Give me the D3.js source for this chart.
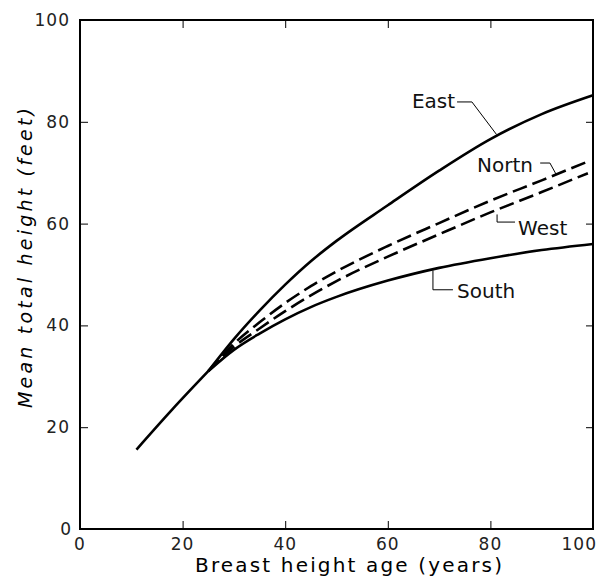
<!DOCTYPE html>
<html>
<head>
<meta charset="utf-8">
<script src="https://cdn.jsdelivr.net/npm/d3@7"></script>
<style>
	body { margin: 0; background: #fff; }
	svg { display: block; font-family: "DejaVu Sans", "Liberation Sans", sans-serif; }
</style>
</head>
<body>
<svg id="chart" width="600" height="579"></svg>
<script>
// values (age in years, height in feet)
const commonAges = [11, 18, 25];
const commonHeights = [15.6, 23.5, 31];

const ages = [25, 30, 35, 40, 45, 50, 60, 70, 80, 90, 100];
const east = [31, 37.3, 42.9, 48, 52.6, 56.6, 63.6, 70.4, 76.6, 81.5, 85.2];
const south = [31, 35.2, 38.4, 41.2, 43.6, 45.6, 48.8, 51.3, 53.2, 54.8, 56];

const dashedAges = [25, 30, 35, 40, 45, 50, 60, 70, 80, 90, 99];
const north = [31, 36.4, 40.6, 44.4, 47.7, 50.6, 55.6, 60.1, 64.5, 68.5, 72.2];
const west = [31, 35.8, 39.4, 42.8, 45.9, 48.7, 53.5, 57.9, 62.2, 66.2, 69.9];

const xTicks = [0, 20, 40, 60, 80, 100];
const yTicks = [0, 20, 40, 60, 80, 100];

// region labels: text anchor and leader line, in data units
const labels = [
	{ name: "East", at: [64.7, 82.7], leader: [[73.5, 83.9], [76.4, 83.9], [81.2, 77.5]] },
	{ name: "Nortn", at: [77.4, 70.1], leader: [[89.7, 71.9], [91.6, 71.9], [92.8, 69.7]] },
	{ name: "West", at: [85.4, 57.8], leader: [[81.3, 61.8], [81.3, 60.3], [84.8, 60.3]] },
	{ name: "South", at: [73.5, 45.4], leader: [[68.8, 50.8], [68.8, 47.0], [72.7, 47.0]] }
];

const margin = { top: 20, right: 7, bottom: 50, left: 80 };
const svg = d3.select("#chart");
const width = +svg.attr("width") - margin.left - margin.right;
const height = +svg.attr("height") - margin.top - margin.bottom;

const x = d3.scaleLinear().domain([0, 100]).range([0, width]);
const y = d3.scaleLinear().domain([0, 100]).range([height, 0]);

const g = svg.append("g").attr("transform", "translate(" + margin.left + "," + margin.top + ")");

const line = d3.line()
	.x(function (d) { return x(d[0]); })
	.y(function (d) { return y(d[1]); })
	.curve(d3.curveMonotoneX);

const zip = (xs, ys) => xs.map((v, i) => [v, ys[i]]);

// frame with inward ticks on every side
g.append("rect")
	.attr("width", width).attr("height", height)
	.attr("fill", "none").attr("stroke", "#000").attr("stroke-width", 2);

const inner = [20, 40, 60, 80];
g.append("g").call(d3.axisBottom(x).tickValues(inner).tickSize(-8).tickFormat(""))
	.attr("transform", "translate(0," + height + ")");
g.append("g").call(d3.axisTop(x).tickValues(inner).tickSize(-8).tickFormat(""));
g.append("g").call(d3.axisLeft(y).tickValues(inner).tickSize(-8).tickFormat(""));
g.append("g").call(d3.axisRight(y).tickValues(inner).tickSize(-7).tickFormat(""))
	.attr("transform", "translate(" + width + ",0)");
g.selectAll(".domain").remove();
g.selectAll(".tick line").attr("stroke", "#000").attr("stroke-width", 1);

// tick labels
g.selectAll(".xlab")
	.data(xTicks)
	.enter().append("text")
	.attr("class", "xlab")
	.attr("x", function (d) { return d === 100 ? x(d) + 4 : x(d); })
	.attr("y", height + 21)
	.attr("text-anchor", function (d) { return d === 100 ? "end" : "middle"; })
	.style("font-size", "17px").style("letter-spacing", "1px").style("fill", "#222")
	.text(function (d) { return d; });

g.selectAll(".ylab")
	.data(yTicks)
	.enter().append("text")
	.attr("class", "ylab")
	.attr("x", function (d) { return d === 0 ? -8 : -10; })
	.attr("y", function (d) { return y(d) + 6; })
	.attr("text-anchor", "end")
	.style("font-size", "17px").style("letter-spacing", "1px").style("fill", "#222")
	.text(function (d) { return d; });

// axis titles
svg.append("text")
	.attr("x", 195).attr("y", 572)
	.attr("textLength", 307).attr("lengthAdjust", "spacing")
	.style("font-size", "20px")
	.text("Breast height age (years)");

svg.append("text")
	.attr("transform", "translate(32,408) rotate(-90)")
	.attr("textLength", 300).attr("lengthAdjust", "spacing")
	.style("font-size", "19px").style("font-style", "italic")
	.text("Mean total height (feet)");

// curves
g.append("path")
	.attr("d", line(zip(commonAges, commonHeights)))
	.attr("fill", "none").attr("stroke", "#000").attr("stroke-width", 2.6);

[east, south].forEach(function (s) {
	g.append("path")
		.attr("d", line(zip(ages, s)))
		.attr("fill", "none").attr("stroke", "#000").attr("stroke-width", 2.6);
});

[north, west].forEach(function (s) {
	g.append("path")
		.attr("d", line(zip(dashedAges, s)))
		.attr("fill", "none").attr("stroke", "#000").attr("stroke-width", 2.6)
		.attr("stroke-dasharray", "15,6");
});

// labels and leaders
const lab = g.selectAll(".label").data(labels).enter().append("g").attr("class", "label");

lab.append("text")
	.attr("x", function (d) { return x(d.at[0]); })
	.attr("y", function (d) { return y(d.at[1]); })
	.style("font-size", "20px").style("fill", "#111")
	.text(function (d) { return d.name; });

lab.append("path")
	.attr("d", function (d) { return d3.line().x(p => x(p[0])).y(p => y(p[1]))(d.leader); })
	.attr("fill", "none").attr("stroke", "#000").attr("stroke-width", 1);
</script>
</body>
</html>
